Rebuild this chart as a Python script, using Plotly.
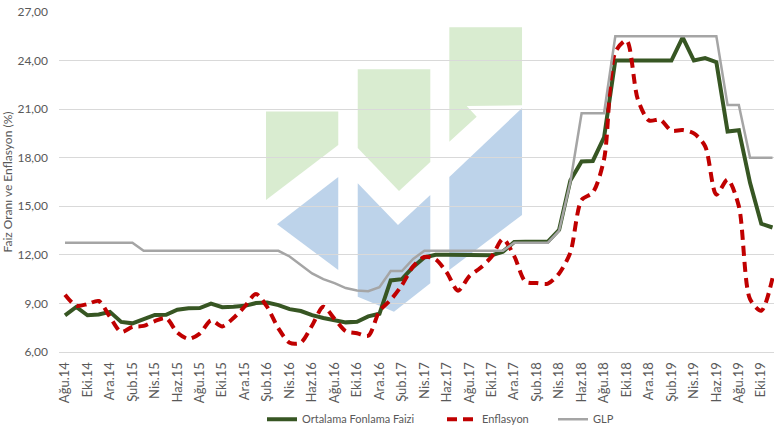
import plotly.graph_objects as go

# ---------------- data ----------------
months = [
    "Ağu.14", "Eyl.14", "Eki.14", "Kas.14", "Ara.14",
    "Oca.15", "Şub.15", "Mar.15", "Nis.15", "May.15", "Haz.15", "Tem.15", "Ağu.15", "Eyl.15", "Eki.15", "Kas.15", "Ara.15",
    "Oca.16", "Şub.16", "Mar.16", "Nis.16", "May.16", "Haz.16", "Tem.16", "Ağu.16", "Eyl.16", "Eki.16", "Kas.16", "Ara.16",
    "Oca.17", "Şub.17", "Mar.17", "Nis.17", "May.17", "Haz.17", "Tem.17", "Ağu.17", "Eyl.17", "Eki.17", "Kas.17", "Ara.17",
    "Oca.18", "Şub.18", "Mar.18", "Nis.18", "May.18", "Haz.18", "Tem.18", "Ağu.18", "Eyl.18", "Eki.18", "Kas.18", "Ara.18",
    "Oca.19", "Şub.19", "Mar.19", "Nis.19", "May.19", "Haz.19", "Tem.19", "Ağu.19", "Eyl.19", "Eki.19", "Kas.19",
]

fonlama = [
    8.26, 8.78, 8.27, 8.32, 8.48,
    7.86, 7.77, 8.02, 8.29, 8.30, 8.61, 8.70, 8.71, 8.99, 8.77, 8.80, 8.85,
    9.02, 9.06, 8.90, 8.65, 8.53, 8.28, 8.10, 7.96, 7.83, 7.87, 8.20, 8.36,
    10.42, 10.50, 11.25, 11.84, 12.00, 12.00, 12.00, 12.00, 12.00, 11.97, 12.20, 12.80,
    12.81, 12.81, 12.82, 13.55, 16.60, 17.77, 17.80, 19.25, 24.00, 24.00, 24.00, 24.00,
    24.00, 24.00, 25.44, 24.00, 24.15, 23.90, 19.62, 19.70, 16.45, 13.92, 13.69,
]

enflasyon = [
    9.54, 8.86, 8.96, 9.15, 8.17,
    7.24, 7.55, 7.61, 7.91, 8.09, 7.20, 6.81, 7.14, 7.95, 7.58, 8.10, 8.81,
    9.58, 8.78, 7.46, 6.57, 6.58, 7.64, 8.79, 8.05, 7.28, 7.16, 7.00, 8.53,
    9.22, 10.13, 11.29, 11.87, 11.72, 10.90, 9.79, 10.68, 11.20, 11.90, 12.98, 11.92,
    10.35, 10.26, 10.23, 10.85, 12.15, 15.39, 15.85, 17.90, 24.52, 25.24, 21.62, 20.30,
    20.35, 19.67, 19.71, 19.50, 18.71, 15.72, 16.65, 15.01, 9.26, 8.55, 10.56,
]

glp = [
    12.75, 12.75, 12.75, 12.75, 12.75,
    12.75, 12.75, 12.25, 12.25, 12.25, 12.25, 12.25, 12.25, 12.25, 12.25, 12.25, 12.25,
    12.25, 12.25, 12.25, 11.90, 11.35, 10.85, 10.50, 10.25, 9.95, 9.80, 9.75, 10.00,
    11.00, 11.00, 11.75, 12.25, 12.25, 12.25, 12.25, 12.25, 12.25, 12.25, 12.25, 12.75,
    12.75, 12.75, 12.75, 13.50, 16.50, 20.75, 20.75, 20.75, 25.50, 25.50, 25.50, 25.50,
    25.50, 25.50, 25.50, 25.50, 25.50, 25.50, 21.25, 21.25, 18.00, 18.00, 18.00,
]

tick_labels = months[::2]
y_ticks = [6, 9, 12, 15, 18, 21, 24, 27]

# ---------------- layout geometry ----------------
W, H = 774, 430
PLOT_L, PLOT_R, PLOT_T, PLOT_B = 59, 774, 12, 352   # page pixels of the plot area
ML, MR, MT, MB = PLOT_L, W - PLOT_R, PLOT_T, H - PLOT_B
PW, PH = PLOT_R - PLOT_L, PLOT_B - PLOT_T

FONT = "Lato"
TXT = "#595959"


def px(xp, yp):
    return (xp - PLOT_L) / PW, (PLOT_B - yp) / PH


def poly(points):
    pts = [px(a, b) for a, b in points]
    return "M " + " L ".join(f"{a:.4f},{b:.4f}" for a, b in pts) + " Z"


GREEN_LOGO = "#d9ecd0"
BLUE_LOGO = "#bdd3ea"
logo = [
    (GREEN_LOGO, [(266, 111.5), (338.3, 111.5), (338.3, 145), (266, 200)]),
    (GREEN_LOGO, [(357.7, 69.3), (430.3, 69.3), (430.3, 162), (399, 191), (357.7, 148)]),
    (GREEN_LOGO, [(449.3, 27.3), (522, 27.3), (522, 105.3), (466.7, 106), (476.7, 116.7), (449.3, 141.7)]),
    (BLUE_LOGO, [(338.3, 177), (277, 224.3), (338.3, 270)]),
    (BLUE_LOGO, [(357.7, 183.3), (398, 225), (430.3, 195), (430.3, 283.3), (394, 311.7), (357.7, 296.7)]),
    (BLUE_LOGO, [(449.3, 177), (522, 108), (522, 215), (449.3, 270)]),
]
shapes = [
    dict(type="path", xref="paper", yref="paper", path=poly(p), fillcolor=c,
         line=dict(width=0), layer="below")
    for c, p in logo
]

fig = go.Figure()
fig.add_trace(go.Scatter(
    x=months, y=fonlama, mode="lines", name="Ortalama Fonlama Faizi",
    line=dict(color="#375623", width=4), legend="legend",
))
fig.add_trace(go.Scatter(
    x=months, y=enflasyon, mode="lines", name="Enflasyon",
    line=dict(color="#C00000", width=4, dash="10px,6px", shape="spline", smoothing=0.8),
    legend="legend2",
))
fig.add_trace(go.Scatter(
    x=months, y=glp, mode="lines", name="GLP",
    line=dict(color="#A5A5A5", width=2.5), legend="legend3",
))

px_per_cat = 11.23
x_left = -0.5 + (PLOT_L - 59.4) / px_per_cat
x_right = x_left + PW / px_per_cat


def legend_at(sample_left_px):
    return dict(orientation="h", x=px(sample_left_px - 5, 0)[0], xanchor="left",
                y=-0.155, yanchor="top", font=dict(family=FONT, size=11, color=TXT),
                bgcolor="rgba(0,0,0,0)")


fig.update_layout(
    width=W, height=H,
    margin=dict(l=ML, r=MR, t=MT, b=MB, autoexpand=False),
    paper_bgcolor="white", plot_bgcolor="white",
    font=dict(family=FONT, size=11, color=TXT),
    separators=",.",
    showlegend=True,
    hovermode=False,
    legend=legend_at(267),
    legend2=legend_at(447),
    legend3=legend_at(558),
    shapes=shapes,
)
fig.update_xaxes(
    type="category", range=[x_left, x_right], tickmode="array", tickvals=tick_labels,
    ticktext=tick_labels, tickangle=-90, showgrid=False, showline=True,
    linecolor="#d9d9d9", linewidth=1, ticks="", automargin=False,
    tickfont=dict(family=FONT, size=13, color=TXT), ticklabelstandoff=4,
)
fig.update_yaxes(
    range=[6, 27], tickmode="array", tickvals=y_ticks, tickformat=".2f",
    showgrid=True, gridcolor="#d9d9d9", gridwidth=1, zeroline=False, showline=False,
    ticks="", automargin=False, tickfont=dict(family=FONT, size=12, color=TXT),
    ticklabelstandoff=10, ticklabeloverflow="allow",
    title=dict(text="Faiz Oranı ve Enflasyon (%)", standoff=8,
               font=dict(family=FONT, size=12, color=TXT)),
)

# the page's default 8px body margin would shift the figure; remove it
fig.write_html("out.html", config={"displayModeBar": False},
               post_script="document.body.style.margin='0';")
